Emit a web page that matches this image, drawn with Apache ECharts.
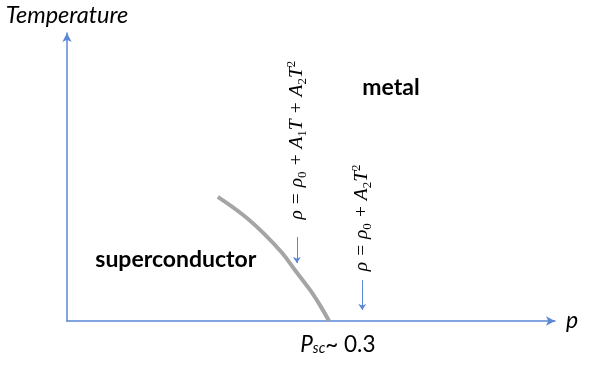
<!DOCTYPE html>
<html><head><meta charset="utf-8">
<script src="https://cdn.jsdelivr.net/npm/echarts@6/dist/echarts.min.js"></script>
<style>html,body{margin:0;padding:0;background:#fff}#c{width:597px;height:369px}</style>
</head><body><div id="c"></div>
<script>
// Schematic phase diagram (arbitrary units: x 0..100, y 0..100)
const boundaryX = [30.9, 36.1, 40.2, 44.1, 46.7, 49.8, 51.8, 53.7];
const boundaryY = [43.1, 36.8, 30.6, 23.6, 17.7, 10.8, 5.6, 0];
const arrowStarts = [[47.1, 29.2], [60.5, 14.2]];
const arrowEnds = [[47.1, 20.1], [60.5, 3.8]];
const formulaTexts = [
  '{m|ρ = ρ}{s|0}{m| + A}{s|1}{m|T + A}{s|2}{m|T}{p|2}',
  '{m|ρ = ρ}{s|0}{m| + A}{s|2}{m|T}{p|2}'
];
const formulaPos = [[47.1, 62.8], [60.5, 35.8]];
const regionLabels = ['metal', 'superconductor'];
const regionPos = [[60.5, 80.9], [22.3, 21.2]];
const pscPos = [55.5, 0];
const xName = 'p';
const yName = 'Temperature';

const blue = '#5B87D6';
const serif = 'Liberation Serif';
const sans = 'Lato';
const solid = {opacity: 1, color: '#000'};
const chart = echarts.init(document.getElementById('c'));
chart.setOption({
  animation: false,
  grid: {left: 67, right: 42, top: 33, bottom: 48},
  xAxis: {
    type: 'value', min: 0, max: 100,
    name: xName, nameLocation: 'end', nameGap: 11,
    nameTextStyle: {fontFamily: sans, fontStyle: 'italic', fontSize: 23, color: '#000'},
    axisLine: {show: true, symbol: ['none', 'arrow'], symbolSize: [7, 9], lineStyle: {color: blue, width: 1.5}},
    axisTick: {show: false}, axisLabel: {show: false}, splitLine: {show: false}
  },
  yAxis: {
    type: 'value', min: 0, max: 100,
    name: yName, nameLocation: 'end', nameGap: 6,
    nameTextStyle: {fontFamily: sans, fontStyle: 'italic', fontSize: 23.5, color: '#000'},
    axisLine: {show: true, symbol: ['none', 'arrow'], symbolSize: [7, 9], lineStyle: {color: blue, width: 1.5}},
    axisTick: {show: false}, axisLabel: {show: false}, splitLine: {show: false}
  },
  series: [
    {
      type: 'line', smooth: 0.4, symbol: 'none',
      data: boundaryX.map((x, i) => [x, boundaryY[i]]),
      lineStyle: {color: '#A5A5A5', width: 4}
    },
    {
      type: 'lines', coordinateSystem: 'cartesian2d',
      symbol: ['none', 'arrow'], symbolSize: 6,
      lineStyle: {color: blue, width: 1, opacity: 1},
      data: arrowStarts.map((s, i) => ({coords: [s, arrowEnds[i]]}))
    },
    {
      type: 'scatter', symbolSize: 0, silent: true, itemStyle: solid,
      data: formulaPos.map((p, i) => ({value: p, name: formulaTexts[i]})),
      label: {show: true, position: 'inside', rotate: 90, formatter: p => p.name,
        rich: {
          m: {fontFamily: serif, fontStyle: 'italic', fontSize: 19.5, lineHeight: 24, color: '#000', verticalAlign: 'middle'},
          s: {fontFamily: serif, fontSize: 13, color: '#000', verticalAlign: 'bottom'},
          p: {fontFamily: serif, fontSize: 13, color: '#000', verticalAlign: 'top'}
        }}
    },
    {
      type: 'scatter', symbolSize: 0, silent: true, itemStyle: solid,
      data: [
        {value: regionPos[0], name: regionLabels[0], label: {position: 'right', distance: 0}},
        {value: regionPos[1], name: regionLabels[1], label: {position: 'inside'}}
      ],
      label: {show: true, formatter: p => p.name,
        fontFamily: sans, fontWeight: 'bold', fontSize: 23, color: '#000'}
    },
    {
      type: 'scatter', symbolSize: 0, silent: true, itemStyle: solid,
      data: [{value: pscPos, name: 'psc'}],
      label: {show: true, position: 'bottom', distance: 10,
        formatter: '{a|P}{b|sc}{c|~ 0.3}',
        rich: {
          a: {fontFamily: sans, fontStyle: 'italic', fontSize: 22.5, color: '#000', verticalAlign: 'bottom'},
          b: {fontFamily: sans, fontStyle: 'italic', fontSize: 14.5, color: '#000', padding: [10, 0, 0, 0], verticalAlign: 'bottom'},
          c: {fontFamily: sans, fontSize: 22.5, color: '#000', verticalAlign: 'bottom'}
        }}
    }
  ]
});
</script></body></html>
